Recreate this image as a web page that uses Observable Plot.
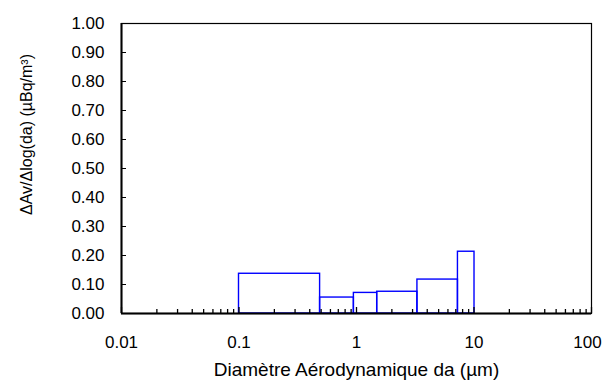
<!DOCTYPE html>
<html>
<head>
<meta charset="utf-8">
<script src="https://cdn.jsdelivr.net/npm/d3@7"></script>
<script src="https://cdn.jsdelivr.net/npm/@observablehq/plot@0.6"></script>
<style>
  html, body { margin: 0; padding: 0; background: #fff; }
  svg { display: block; }
</style>
</head>
<body>
<div id="chart"></div>
<script>
// Bin edges (µm) and values (µBq/m³)
const binLow  = [0.1, 0.49, 0.95, 1.5, 3.3, 7.3];
const binHigh = [0.49, 0.95, 1.5, 3.3, 7.3, 10.1];
const values  = [0.137, 0.055, 0.071, 0.075, 0.117, 0.213];

const xMajorTicks = [0.01, 0.1, 1, 10, 100];
const xMajorLabels = ["0.01", "0.1", "1", "10", "100"];
const yTicks = [0, 0.1, 0.2, 0.3, 0.4, 0.5, 0.6, 0.7, 0.8, 0.9, 1.0];
const xMinorTicks = [];
for (const d of [0.01, 0.1, 1, 10]) for (let m = 2; m <= 9; m++) xMinorTicks.push(+(d * m).toPrecision(3));

const xTitle = "Diamètre Aérodynamique da (µm)";
const yTitle = "ΔAv/Δlog(da) (µBq/m³)";

const bins = binLow.map((lo, i) => ({lo, hi: binHigh[i], v: values[i]}));

const W = 602, H = 383;
const mL = 121, mR = 11, mT = 23, mB = 70;
const plotW = W - mL - mR, plotH = H - mT - mB;
const font = "Liberation Sans, Arial, sans-serif";
const fmtX = d => xMajorLabels[xMajorTicks.indexOf(d)];

const chart = Plot.plot({
  width: W, height: H,
  marginLeft: mL, marginRight: mR, marginTop: mT, marginBottom: mB,
  style: {fontFamily: font, background: "#fff", overflow: "visible"},
  x: {type: "log", domain: [0.01, 100]},
  y: {domain: [0, 1]},
  marks: [
    Plot.rect(bins, {x1: "lo", x2: "hi", y1: 0, y2: "v", fill: "none", stroke: "#0000ff", strokeWidth: 1.4}),
    Plot.frame({stroke: "#000", strokeWidth: 1.2}),
    Plot.ruleX([0.01], {stroke: "#000", strokeWidth: 2}),
    Plot.ruleY([0], {stroke: "#000", strokeWidth: 2}),
    Plot.tickY(yTicks, {y: d => d, stroke: "#000", strokeWidth: 1, insetRight: plotW - 5}),
    Plot.tickX(xMajorTicks, {x: d => d, stroke: "#000", strokeWidth: 1.3, insetTop: plotH - 6}),
    Plot.tickX(xMinorTicks, {x: d => d, stroke: "#000", strokeWidth: 1.3, insetTop: plotH - 4}),
    Plot.axisY({ticks: yTicks, tickSize: 0, tickPadding: 17, tickFormat: d3.format(".2f"), fontSize: 17, label: null}),
    Plot.axisX({ticks: xMajorTicks.slice(0, -1), tickSize: 0, tickPadding: 22, tickFormat: fmtX, fontSize: 17, label: null}),
    Plot.axisX({ticks: xMajorTicks.slice(-1), tickSize: 0, tickPadding: 22, tickFormat: fmtX, fontSize: 17, label: null, dx: -4}),
    Plot.text([xTitle], {frameAnchor: "bottom", text: d => d, dy: 62, fontSize: 19, fill: "#000"}),
    Plot.text([yTitle], {frameAnchor: "left", text: d => d, textAnchor: "middle", rotate: -90, dx: -95, dy: -34, fontSize: 16, fill: "#000"})
  ]
});
document.getElementById("chart").append(chart);
</script>
</body>
</html>
